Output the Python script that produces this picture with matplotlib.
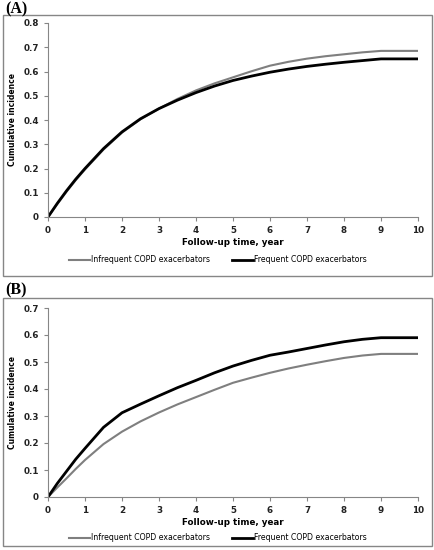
import matplotlib.pyplot as plt
from matplotlib.patches import Rectangle

# follow-up time (years)
years = [0, 0.25, 0.5, 0.75, 1, 1.5, 2, 2.5, 3, 3.5, 4, 4.5, 5, 5.5, 6, 6.5, 7, 7.5, 8, 8.5, 9, 10]

# panel A
a_infrequent = [0, 0.053, 0.104, 0.152, 0.196, 0.278, 0.348, 0.403, 0.447, 0.487, 0.522, 0.551, 0.576,
                0.601, 0.624, 0.640, 0.653, 0.663, 0.671, 0.679, 0.685, 0.685]
a_frequent = [0, 0.056, 0.108, 0.156, 0.200, 0.282, 0.351, 0.405, 0.447, 0.482, 0.513, 0.540, 0.563,
              0.581, 0.597, 0.610, 0.621, 0.630, 0.638, 0.645, 0.652, 0.652]

# panel B
b_infrequent = [0, 0.035, 0.069, 0.104, 0.137, 0.196, 0.242, 0.280, 0.313, 0.343, 0.370, 0.397, 0.423,
                0.442, 0.460, 0.476, 0.490, 0.503, 0.515, 0.524, 0.530, 0.530]
b_frequent = [0, 0.050, 0.095, 0.140, 0.180, 0.258, 0.312, 0.344, 0.375, 0.405, 0.432, 0.460, 0.485,
              0.506, 0.525, 0.537, 0.550, 0.563, 0.575, 0.584, 0.590, 0.590]

labels = ["Infrequent COPD exacerbators", "Frequent COPD exacerbators"]
xticks = list(range(0, 11))

W, H = 435, 550
fig = plt.figure(figsize=(W / 100, H / 100), dpi=100)
axis_grey = "#868686"


def box(y0, y1):
    fig.patches.append(Rectangle((3 / W, 1 - y1 / H), 429 / W, (y1 - y0) / H, transform=fig.transFigure,
                                 fill=False, edgecolor=axis_grey, lw=1.0))


def panel(top, bottom, ymax, inf, freq, tag, tag_y, leg_y):
    ax = fig.add_axes([48 / W, 1 - bottom / H, 370 / W, (bottom - top) / H])
    ax.plot(years, inf, color="#7f7f7f", lw=1.5, label=labels[0])
    ax.plot(years, freq, color="black", lw=2.0, label=labels[1])
    ax.set_xlim(0, 10)
    ax.set_ylim(0, ymax)
    ax.set_xticks(xticks)
    n = int(round(ymax * 10))
    ax.set_yticks([i / 10 for i in range(n + 1)])
    ax.set_yticklabels(["0"] + [f"{i / 10:.1f}" for i in range(1, n + 1)])
    for s in ["top", "right"]:
        ax.spines[s].set_visible(False)
    for s in ["left", "bottom"]:
        ax.spines[s].set_color(axis_grey)
        ax.spines[s].set_linewidth(0.8)
    ax.tick_params(colors=axis_grey, length=3, width=0.8, labelsize=6.3, labelcolor="#222222")
    for t in ax.get_xticklabels() + ax.get_yticklabels():
        t.set_fontweight("bold")
    ax.set_xlabel("Follow-up time, year", fontsize=6.3, fontweight="bold", labelpad=2)
    ax.set_ylabel("Cumulative incidence", fontsize=5.5, fontweight="bold", labelpad=5)
    fig.text(5 / W, 1 - tag_y / H, tag, family="Liberation Serif", fontweight="bold",
             fontsize=11.5, va="center", ha="left")
    fig.legend(*ax.get_legend_handles_labels(), loc="center", bbox_to_anchor=(218 / W, 1 - leg_y / H),
               ncol=2, frameon=False, fontsize=5.6, handlelength=2.7, handletextpad=0.1,
               columnspacing=2.8)
    return ax


box(15, 276)
box(298, 546)
panel(23, 217, 0.8, a_infrequent, a_frequent, "(A)", 9, 260)
panel(308, 497, 0.7, b_infrequent, b_frequent, "(B)", 290, 538)

fig.savefig("out.png", dpi=100)
